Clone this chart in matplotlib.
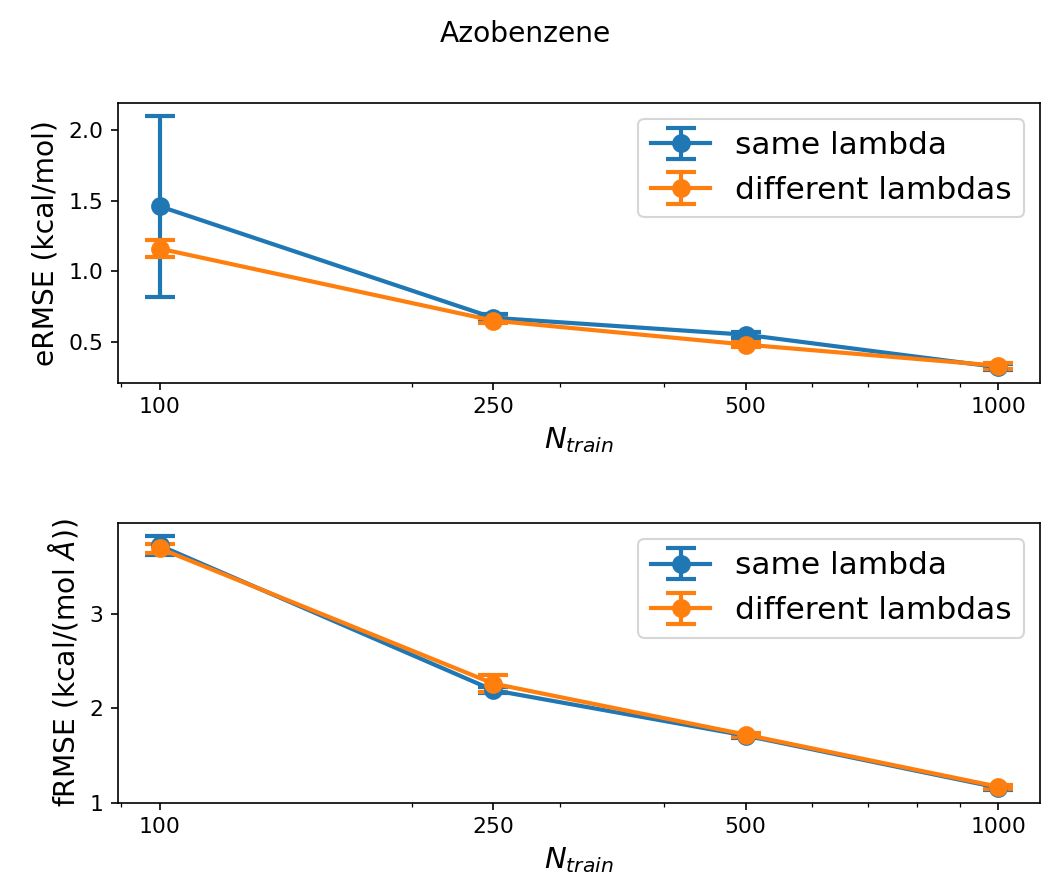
import numpy as np
import matplotlib
matplotlib.use('Agg')
import matplotlib.pyplot as plt
from matplotlib.ticker import NullFormatter

# Training set sizes
n_train = [100, 250, 500, 1000]
tick_labels = ['100', '250', '500', '1000']

# Energy RMSE (kcal/mol)
e_same = [1.46, 0.67, 0.55, 0.32]
e_same_err = [0.64, 0.03, 0.02, 0.02]
e_diff = [1.16, 0.65, 0.48, 0.33]
e_diff_err = [0.06, 0.02, 0.02, 0.02]

# Force RMSE (kcal/(mol A))
f_same = [3.72, 2.19, 1.71, 1.16]
f_same_err = [0.10, 0.03, 0.02, 0.02]
f_diff = [3.69, 2.26, 1.72, 1.17]
f_diff_err = [0.05, 0.09, 0.02, 0.02]

fig = plt.figure(figsize=(1051/150, 890/150), dpi=150)
ax1 = fig.add_axes([0.112, 0.570, 0.8775, 0.314])
ax2 = fig.add_axes([0.112, 0.098, 0.8775, 0.314])

style = dict(fmt='-o', lw=2, ms=8, capsize=7, elinewidth=2, capthick=2)

ax1.errorbar(n_train, e_same, yerr=e_same_err, color='#1f77b4', label='same lambda', **style)
ax1.errorbar(n_train, e_diff, yerr=e_diff_err, color='#ff7f0e', label='different lambdas', **style)
ax1.set_ylabel('eRMSE (kcal/mol)', fontsize=13.5)

ax2.errorbar(n_train, f_same, yerr=f_same_err, color='#1f77b4', label='same lambda', **style)
ax2.errorbar(n_train, f_diff, yerr=f_diff_err, color='#ff7f0e', label='different lambdas', **style)
ax2.set_ylabel(r'fRMSE (kcal/(mol $\AA$))', fontsize=13.5)

for ax in (ax1, ax2):
    ax.set_xscale('log')
    ax.set_xticks(n_train)
    ax.set_xticklabels(tick_labels)
    ax.xaxis.set_minor_formatter(NullFormatter())
    ax.tick_params(labelsize=10.5)
    ax.set_xlabel(r'$N_{train}$', fontsize=14)
    ax.legend(loc='upper right', fontsize=15, handlelength=1.9)

ax1.set_yticks([0.5, 1.0, 1.5, 2.0])
ax2.set_yticks([1, 2, 3])

fig.suptitle('Azobenzene', fontsize=13.5, y=0.978)

plt.savefig('out.png', dpi=150)
